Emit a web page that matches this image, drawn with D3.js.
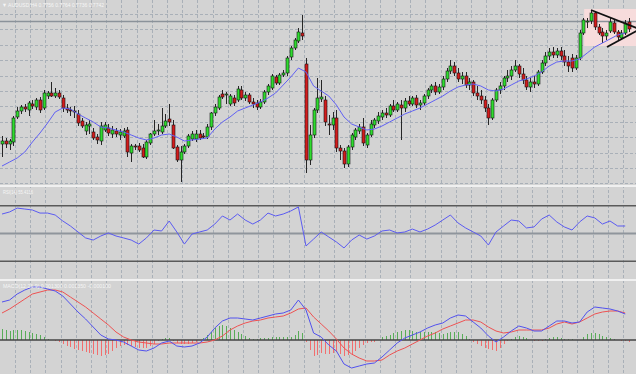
<!DOCTYPE html>
<html>
<head>
<meta charset="utf-8">
<script src="https://cdn.jsdelivr.net/npm/d3@7/dist/d3.min.js"></script>
<style>
	html, body { margin: 0; padding: 0; background: #d3d3d3; }
	svg { display: block; }
	.lbl { font-family: 'Liberation Sans', Arial, sans-serif; font-size: 5.5px; fill: #f6f6f6; }
</style>
</head>
<body>
<svg id="svg" width="636" height="374"></svg>
<script>
// AUDUSD H4 candles, oldest -> newest
const open = [0.7512, 0.7518, 0.7512, 0.7516, 0.7566, 0.7578, 0.7586, 0.7580, 0.7592, 0.7586,
	0.7600, 0.7584, 0.7608, 0.7614, 0.7608, 0.7614, 0.7604, 0.7584, 0.7580, 0.7578,
	0.7572, 0.7558, 0.7538, 0.7548, 0.7536, 0.7526, 0.7518, 0.7540, 0.7544, 0.7532,
	0.7538, 0.7530, 0.7528, 0.7540, 0.7494, 0.7508, 0.7508, 0.7504, 0.7486, 0.7514,
	0.7532, 0.7538, 0.7536, 0.7548, 0.7562, 0.7550, 0.7506, 0.7480, 0.7496, 0.7508,
	0.7522, 0.7522, 0.7532, 0.7528, 0.7526, 0.7546, 0.7574, 0.7584, 0.7612, 0.7610,
	0.7592, 0.7604, 0.7600, 0.7620, 0.7604, 0.7610, 0.7596, 0.7594, 0.7586, 0.7596,
	0.7616, 0.7624, 0.7646, 0.7634, 0.7650, 0.7654, 0.7686, 0.7704, 0.7718, 0.7734,
	0.7672, 0.7480, 0.7530, 0.7580, 0.7602, 0.7600, 0.7552, 0.7550, 0.7564, 0.7504,
	0.7498, 0.7472, 0.7506, 0.7526, 0.7538, 0.7546, 0.7510, 0.7530, 0.7550, 0.7558,
	0.7566, 0.7574, 0.7570, 0.7588, 0.7580, 0.7590, 0.7584, 0.7598, 0.7592, 0.7604,
	0.7590, 0.7594, 0.7608, 0.7620, 0.7628, 0.7616, 0.7626, 0.7642, 0.7658, 0.7668,
	0.7654, 0.7642, 0.7648, 0.7630, 0.7636, 0.7614, 0.7608, 0.7600, 0.7584, 0.7564,
	0.7600, 0.7620, 0.7628, 0.7644, 0.7648, 0.7660, 0.7668, 0.7652, 0.7640, 0.7626,
	0.7636, 0.7632, 0.7656, 0.7674, 0.7688, 0.7696, 0.7690, 0.7698, 0.7688, 0.7676,
	0.7684, 0.7664, 0.7684, 0.7734, 0.7756, 0.7758, 0.7774, 0.7746, 0.7736, 0.7728,
	0.7738, 0.7754, 0.7736, 0.7724, 0.7734, 0.7756];
const high = [0.7528, 0.7524, 0.7522, 0.7568, 0.7586, 0.7590, 0.7592, 0.7598, 0.7600, 0.7604,
	0.7606, 0.7620, 0.7618, 0.7636, 0.7624, 0.7620, 0.7610, 0.7592, 0.7586, 0.7588,
	0.7580, 0.7564, 0.7556, 0.7560, 0.7544, 0.7532, 0.7556, 0.7556, 0.7552, 0.7548,
	0.7544, 0.7542, 0.7544, 0.7546, 0.7512, 0.7512, 0.7514, 0.7512, 0.7520, 0.7534,
	0.7560, 0.7552, 0.7584, 0.7572, 0.7592, 0.7560, 0.7510, 0.7508, 0.7512, 0.7532,
	0.7538, 0.7540, 0.7540, 0.7534, 0.7552, 0.7576, 0.7592, 0.7610, 0.7620, 0.7616,
	0.7612, 0.7610, 0.7628, 0.7628, 0.7616, 0.7614, 0.7604, 0.7600, 0.7602, 0.7620,
	0.7632, 0.7652, 0.7650, 0.7654, 0.7660, 0.7688, 0.7708, 0.7724, 0.7744, 0.7770,
	0.7684, 0.7550, 0.7584, 0.7644, 0.7640, 0.7608, 0.7570, 0.7576, 0.7580, 0.7510,
	0.7504, 0.7510, 0.7534, 0.7544, 0.7552, 0.7564, 0.7534, 0.7560, 0.7564, 0.7576,
	0.7580, 0.7584, 0.7592, 0.7600, 0.7596, 0.7600, 0.7604, 0.7608, 0.7608, 0.7610,
	0.7600, 0.7612, 0.7624, 0.7632, 0.7636, 0.7632, 0.7648, 0.7664, 0.7680, 0.7676,
	0.7664, 0.7656, 0.7656, 0.7644, 0.7640, 0.7628, 0.7620, 0.7608, 0.7592, 0.7604,
	0.7624, 0.7636, 0.7648, 0.7660, 0.7668, 0.7680, 0.7672, 0.7664, 0.7648, 0.7644,
	0.7648, 0.7660, 0.7680, 0.7696, 0.7704, 0.7706, 0.7704, 0.7706, 0.7700, 0.7688,
	0.7692, 0.7690, 0.7740, 0.7764, 0.7764, 0.7780, 0.7778, 0.7752, 0.7744, 0.7740,
	0.7764, 0.7760, 0.7740, 0.7740, 0.7760, 0.7764];
const low = [0.7486, 0.7504, 0.7500, 0.7508, 0.7562, 0.7572, 0.7576, 0.7568, 0.7582, 0.7580,
	0.7574, 0.7580, 0.7602, 0.7606, 0.7604, 0.7602, 0.7576, 0.7574, 0.7568, 0.7564,
	0.7548, 0.7544, 0.7530, 0.7532, 0.7520, 0.7512, 0.7510, 0.7536, 0.7528, 0.7524,
	0.7526, 0.7520, 0.7524, 0.7486, 0.7476, 0.7500, 0.7496, 0.7484, 0.7482, 0.7510,
	0.7528, 0.7530, 0.7532, 0.7544, 0.7548, 0.7502, 0.7476, 0.7436, 0.7492, 0.7504,
	0.7518, 0.7516, 0.7520, 0.7522, 0.7522, 0.7540, 0.7568, 0.7580, 0.7602, 0.7592,
	0.7588, 0.7588, 0.7596, 0.7600, 0.7598, 0.7592, 0.7584, 0.7580, 0.7582, 0.7592,
	0.7610, 0.7620, 0.7630, 0.7630, 0.7646, 0.7648, 0.7680, 0.7700, 0.7714, 0.7720,
	0.7454, 0.7470, 0.7524, 0.7574, 0.7596, 0.7548, 0.7530, 0.7540, 0.7496, 0.7480,
	0.7464, 0.7466, 0.7500, 0.7520, 0.7532, 0.7508, 0.7504, 0.7526, 0.7544, 0.7552,
	0.7560, 0.7564, 0.7566, 0.7576, 0.7576, 0.7520, 0.7576, 0.7588, 0.7588, 0.7584,
	0.7580, 0.7590, 0.7602, 0.7614, 0.7610, 0.7612, 0.7620, 0.7636, 0.7652, 0.7648,
	0.7636, 0.7632, 0.7624, 0.7620, 0.7608, 0.7600, 0.7592, 0.7576, 0.7550, 0.7560,
	0.7596, 0.7612, 0.7620, 0.7636, 0.7640, 0.7656, 0.7644, 0.7632, 0.7620, 0.7616,
	0.7624, 0.7628, 0.7652, 0.7668, 0.7680, 0.7684, 0.7684, 0.7680, 0.7668, 0.7656,
	0.7656, 0.7660, 0.7680, 0.7730, 0.7744, 0.7752, 0.7740, 0.7730, 0.7714, 0.7720,
	0.7734, 0.7732, 0.7720, 0.7720, 0.7730, 0.7736];
const close = [0.7518, 0.7512, 0.7518, 0.7564, 0.7578, 0.7586, 0.7582, 0.7594, 0.7588, 0.7600,
	0.7580, 0.7614, 0.7614, 0.7608, 0.7614, 0.7606, 0.7584, 0.7580, 0.7578, 0.7576,
	0.7554, 0.7548, 0.7550, 0.7552, 0.7524, 0.7520, 0.7548, 0.7550, 0.7534, 0.7540,
	0.7532, 0.7536, 0.7538, 0.7496, 0.7508, 0.7506, 0.7500, 0.7486, 0.7516, 0.7532,
	0.7538, 0.7540, 0.7548, 0.7558, 0.7556, 0.7504, 0.7480, 0.7496, 0.7508, 0.7528,
	0.7532, 0.7532, 0.7524, 0.7526, 0.7546, 0.7574, 0.7586, 0.7606, 0.7606, 0.7612,
	0.7608, 0.7594, 0.7622, 0.7604, 0.7610, 0.7596, 0.7592, 0.7586, 0.7596, 0.7616,
	0.7628, 0.7648, 0.7634, 0.7650, 0.7654, 0.7684, 0.7704, 0.7720, 0.7736, 0.7728,
	0.7480, 0.7530, 0.7580, 0.7604, 0.7606, 0.7556, 0.7550, 0.7564, 0.7504, 0.7498,
	0.7472, 0.7506, 0.7530, 0.7540, 0.7546, 0.7514, 0.7530, 0.7552, 0.7560, 0.7568,
	0.7574, 0.7570, 0.7588, 0.7580, 0.7592, 0.7584, 0.7598, 0.7592, 0.7604, 0.7590,
	0.7594, 0.7608, 0.7620, 0.7628, 0.7616, 0.7626, 0.7642, 0.7658, 0.7668, 0.7654,
	0.7642, 0.7648, 0.7630, 0.7636, 0.7614, 0.7608, 0.7600, 0.7584, 0.7564, 0.7600,
	0.7620, 0.7628, 0.7644, 0.7648, 0.7660, 0.7668, 0.7652, 0.7640, 0.7626, 0.7636,
	0.7632, 0.7656, 0.7674, 0.7688, 0.7696, 0.7690, 0.7698, 0.7688, 0.7676, 0.7668,
	0.7664, 0.7684, 0.7734, 0.7760, 0.7758, 0.7774, 0.7746, 0.7734, 0.7728, 0.7734,
	0.7756, 0.7736, 0.7726, 0.7734, 0.7754, 0.7742];

// indicator lines, read every 2nd bar (bar 0, 2, 4 ... 164)
const LINE_STEP = 2;
const maLine = [0.7468, 0.7476, 0.7484, 0.7496, 0.7516, 0.7534, 0.7554, 0.7576, 0.7584, 0.7582,
	0.7572, 0.7564, 0.7556, 0.7546, 0.7544, 0.7540, 0.7536, 0.7530, 0.7524, 0.7520,
	0.7524, 0.7530, 0.7532, 0.7526, 0.7518, 0.7520, 0.7522, 0.7524, 0.7542, 0.7556,
	0.7566, 0.7578, 0.7584, 0.7590, 0.7596, 0.7604, 0.7614, 0.7630, 0.7646, 0.7664,
	0.7656, 0.7628, 0.7618, 0.7608, 0.7590, 0.7566, 0.7552, 0.7546, 0.7540, 0.7542,
	0.7548, 0.7556, 0.7564, 0.7572, 0.7578, 0.7584, 0.7592, 0.7600, 0.7608, 0.7618,
	0.7626, 0.7630, 0.7632, 0.7628, 0.7620, 0.7618, 0.7622, 0.7630, 0.7638, 0.7642,
	0.7648, 0.7656, 0.7668, 0.7676, 0.7678, 0.7678, 0.7682, 0.7694, 0.7706, 0.7714,
	0.7722, 0.7730, 0.7734];
const rsi = [64.0, 65.5, 68.3, 67.6, 66.9, 64.7, 64.7, 63.3, 59.0, 55.4,
	51.1, 46.8, 45.3, 48.2, 50.4, 48.2, 46.8, 45.3, 42.4, 46.8,
	52.5, 51.8, 59.0, 51.1, 42.4, 49.6, 51.1, 52.5, 56.8, 62.6,
	59.7, 64.0, 59.7, 56.8, 59.7, 64.7, 62.6, 64.0, 66.2, 69.1,
	41.0, 46.0, 51.1, 47.5, 43.9, 39.6, 45.3, 48.9, 46.0, 48.2,
	51.8, 52.5, 50.4, 51.1, 53.2, 51.1, 53.2, 56.1, 59.7, 63.3,
	57.6, 54.0, 51.1, 48.2, 41.7, 51.1, 55.4, 59.7, 59.0, 54.0,
	54.7, 60.4, 63.3, 58.3, 54.7, 52.5, 58.3, 62.6, 61.2, 56.8,
	59.0, 55.4, 55.4];
// macd values in pips (1e-4)
const macdMain = [19, 20, 23, 25, 26.5, 26.5, 25.5, 24.5, 22, 18,
	14, 10.5, 6.5, 2.5, 0.5, 0, -1, -3, -5, -5.5,
	-4, -1.5, -0.5, -3, -3.5, -3, -1.5, 1.5, 6, 9.5,
	11, 11, 10.5, 10, 11, 12, 13, 13.5, 15, 20,
	15, 3.5, 1.5, -2.5, -5.5, -12, -14, -13, -12, -11.5,
	-8.5, -5, -1.5, 1, 2.5, 4, 6, 7.5, 8.5, 11,
	12.5, 12, 9, 6, 2, -1, 1.5, 4.5, 7, 6,
	4.5, 4.5, 7, 9.5, 9.5, 8.5, 9, 14, 16.5, 16,
	15.5, 14.5, 13];
const macdSignal = [13.5, 15.5, 18, 20.5, 23, 24, 25, 25, 24, 21.5,
	19, 16.5, 13.5, 10.5, 7.5, 4, 1.5, 0, -1, -1.5,
	-2, -2, -1.5, -1.5, -1.5, -1.5, -1.5, -1, 0, 2,
	5, 7, 8.5, 9.5, 10, 11, 11.5, 12, 13.5, 15.5,
	16, 11.5, 8, 4.5, 0.5, -4, -7, -9, -10.5, -10.5,
	-10, -7.5, -5.5, -4, -2, 0, 2, 3.5, 5.5, 7,
	8.5, 10, 10, 9, 6.5, 4.5, 3.5, 4, 5, 5,
	5, 5, 6, 8, 9, 8, 9, 11, 13, 14,
	14.5, 14.5, 13.5];
// histogram, one per bar
const macdHist = [5.5, 5, 4.5, 5, 5, 5, 4.5, 4, 3.5, 3,
	2.5, 1.5, 0.5, 0, -0.5, -1, -2, -3, -3.5, -4.5,
	-5, -5.5, -6, -6.5, -7, -7.5, -8, -7.5, -7, -5.5,
	-4, -3, -2.5, -2.5, -3, -3.5, -4, -4, -4, -3,
	-2, -0.5, 0.5, 1, 1, -0.5, -1.5, -2, -2, -2,
	-1.5, -1, 0, 1, 2.5, 4, 6, 7, 7.5, 7,
	6, 5, 4, 3, 2, 1, 0.5, 0.5, 1, 1,
	1, 1.5, 1.5, 1.5, 1.5, 1.5, 1.5, 2.5, 4.5, 3.5,
	-1, -5, -8, -7.5, -6.5, -7, -7, -6.5, -6, -7,
	-8, -7.5, -7, -5.5, -4, -2.5, -1.5, -1, -1, 0,
	1.5, 2, 2.5, 3.5, 4, 4.5, 5, 5, 4.5, 4,
	4, 4, 4, 4, 4, 3.5, 3, 3.5, 4, 4,
	4, 3, 2, 0.5, -1, -2, -3, -4, -4.5, -5,
	-5.5, -4, -2, -0.5, 0.5, 1.5, 2, 1.5, 1, 0,
	-0.5, -0.5, -0.5, 0.5, 1, 1.5, 1.5, 1, 0.5, 0.5,
	0.5, 0, 0, 1.5, 3, 3.5, 3.5, 3, 2, 1.5,
	1, 0.5, 0, -0.5, -0.5, -1];

const rsiLevels = [70, 50, 30];
const hLevel = 0.7757;
// drawn objects (bar index, price)
const boxBars = [153.2, 168], boxPrices = [0.7708, 0.7782];
const triUpper = [[155, 0.7780], [167, 0.7744]];
const triLower = [[159.2, 0.7706], [167, 0.7738]];

const labels = {
	main: '\u25BC AUDUSD,H4  0.7756 0.7764 0.7736 0.7742',
	rsi: 'RSI(14) 55.4136',
	macd: 'MACD(12,26,9) 0.001300 0.001350 -0.000100'
};

const W = 636, H = 374;
const bull = '#2fdc2f', bear = '#d41c1c';

const svg = d3.select('#svg');
const idx = d3.range(open.length);

/* scales */
const x = d3.scaleLinear().domain([0, 165]).range([2, 629]);
const yPrice = d3.scaleLinear().domain([0.7430, 0.7800]).range([185, 0]);
const yRsi = d3.scaleLinear().domain([30, 70]).range([261.3, 205.7]);
const yMacd = d3.scaleLinear().domain([0, 10]).range([340, 320]);
const px = i => Math.round(x(i)) + 0.5; // crisp 1px columns

svg.append('rect').attr('width', W).attr('height', H).attr('fill', '#d3d3d3');

// clip each panel
const defs = svg.append('defs');
[['cMain', 0, 185], ['cRsi', 187, 92], ['cMacd', 281, 93]].forEach(([id, y0, h]) => {
	defs.append('clipPath').attr('id', id)
		.append('rect').attr('x', 0).attr('y', y0).attr('width', W).attr('height', h);
});

/* grid */
const grid = svg.append('g').attr('stroke', '#a9b0b8').attr('stroke-dasharray', '3,2').attr('stroke-width', 1);
grid.selectAll('line.v').data(d3.range(3.4, 166, 4)).join('line')
	.attr('class', 'v')
	.attr('x1', d => Math.round(x(d)) + 0.5).attr('x2', d => Math.round(x(d)) + 0.5)
	.attr('y1', 0).attr('y2', H);
grid.selectAll('line.h').data(d3.range(14, 185, 15.4)).join('line')
	.attr('class', 'h')
	.attr('x1', 0).attr('x2', W)
	.attr('y1', d => Math.round(d) + 0.5).attr('y2', d => Math.round(d) + 0.5);

/* main panel */
const mainG = svg.append('g').attr('clip-path', 'url(#cMain)');

mainG.append('rect')
	.attr('x', x(boxBars[0])).attr('width', x(boxBars[1]) - x(boxBars[0]))
	.attr('y', yPrice(boxPrices[1])).attr('height', yPrice(boxPrices[0]) - yPrice(boxPrices[1]))
	.attr('fill', '#f7dcdc');

mainG.append('line')
	.attr('x1', 0).attr('x2', W)
	.attr('y1', yPrice(hLevel)).attr('y2', yPrice(hLevel))
	.attr('stroke', '#8b929a').attr('stroke-width', 1.4);

const candles = mainG.append('g');
candles.selectAll('line').data(idx).join('line')
	.attr('x1', px).attr('x2', px)
	.attr('y1', i => yPrice(high[i])).attr('y2', i => yPrice(low[i]))
	.attr('stroke', '#262626').attr('stroke-width', 1);
candles.selectAll('rect').data(idx).join('rect')
	.attr('x', i => px(i) - 1.5).attr('width', 3)
	.attr('y', i => yPrice(Math.max(open[i], close[i])))
	.attr('height', i => Math.max(1, Math.abs(yPrice(open[i]) - yPrice(close[i]))))
	.attr('fill', i => close[i] > open[i] ? bull : (close[i] < open[i] ? bear : '#222'))
	.attr('stroke', '#151515').attr('stroke-width', 0.6);

const lineX = (d, k) => x(k * LINE_STEP);

mainG.append('path')
	.attr('d', d3.line().x(lineX).y(d => yPrice(d))(maLine))
	.attr('fill', 'none').attr('stroke', '#6161f4').attr('stroke-width', 1);

// triangle trend lines
[triUpper, triLower].forEach(seg => {
	mainG.append('line')
		.attr('x1', x(seg[0][0])).attr('y1', yPrice(seg[0][1]))
		.attr('x2', x(seg[1][0])).attr('y2', yPrice(seg[1][1]))
		.attr('stroke', '#111').attr('stroke-width', 1.8);
});

/* rsi panel */
const rsiG = svg.append('g').attr('clip-path', 'url(#cRsi)');
rsiG.selectAll('line').data(rsiLevels).join('line')
	.attr('x1', 0).attr('x2', W)
	.attr('y1', d => yRsi(d)).attr('y2', d => yRsi(d))
	.attr('stroke', d => d === 50 ? '#8f959c' : '#5a5a5a')
	.attr('stroke-width', d => d === 50 ? 2 : 1.4);
rsiG.append('path')
	.attr('d', d3.line().x(lineX).y(d => yRsi(d))(rsi))
	.attr('fill', 'none').attr('stroke', '#5b5bf2').attr('stroke-width', 1);

/* macd panel */
const macdG = svg.append('g').attr('clip-path', 'url(#cMacd)');
macdG.selectAll('line.bar').data(idx).join('line')
	.attr('class', 'bar')
	.attr('x1', px).attr('x2', px)
	.attr('y1', yMacd(0)).attr('y2', i => yMacd(macdHist[i]))
	.attr('stroke', i => macdHist[i] >= 0 ? '#58ad58' : '#f26e6e')
	.attr('stroke-width', 1);
macdG.append('line')
	.attr('x1', 0).attr('x2', W)
	.attr('y1', yMacd(0)).attr('y2', yMacd(0))
	.attr('stroke', '#454545').attr('stroke-width', 1.3);
macdG.append('path')
	.attr('d', d3.line().x(lineX).y(d => yMacd(d))(macdSignal))
	.attr('fill', 'none').attr('stroke', '#ee5252').attr('stroke-width', 1);
macdG.append('path')
	.attr('d', d3.line().x(lineX).y(d => yMacd(d))(macdMain))
	.attr('fill', 'none').attr('stroke', '#5252ee').attr('stroke-width', 1);

/* separators + labels */
svg.selectAll('rect.sep').data([185, 279]).join('rect')
	.attr('class', 'sep')
	.attr('x', 0).attr('width', W).attr('y', d => d).attr('height', 2)
	.attr('fill', '#f0f0f0');

svg.append('text').attr('class', 'lbl').attr('x', 2).attr('y', 6.5)
	.attr('textLength', 102).attr('lengthAdjust', 'spacingAndGlyphs').text(labels.main);
svg.append('text').attr('class', 'lbl').attr('x', 3).attr('y', 193.5)
	.attr('textLength', 30).attr('lengthAdjust', 'spacingAndGlyphs').text(labels.rsi);
svg.append('text').attr('class', 'lbl').attr('x', 3).attr('y', 287.5)
	.attr('textLength', 108).attr('lengthAdjust', 'spacingAndGlyphs').text(labels.macd);
</script>
</body>
</html>
